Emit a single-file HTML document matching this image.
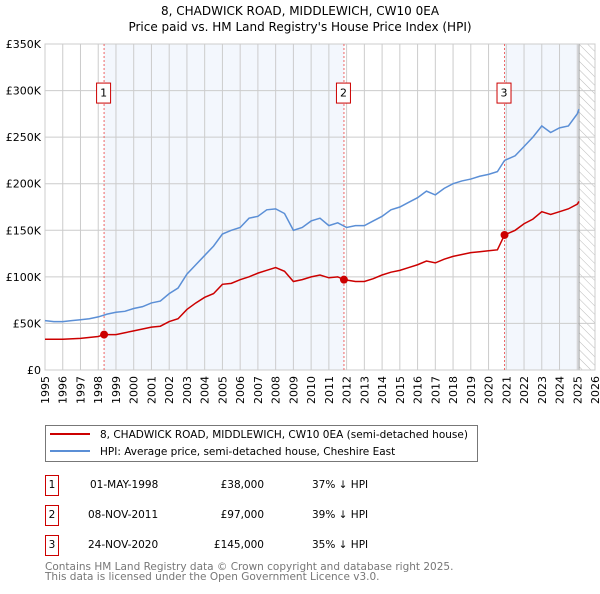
<!DOCTYPE html>
<html><head><meta charset="utf-8"><style>
body{margin:0;background:#fff;font-family:"DejaVu Sans","Liberation Sans",sans-serif;}
svg text{font-family:"DejaVu Sans","Liberation Sans",sans-serif;}
</style></head><body>
<svg id="c" width="600" height="590" xmlns="http://www.w3.org/2000/svg">
<defs><pattern id="hatch" width="6" height="6" patternUnits="userSpaceOnUse" patternTransform="rotate(-45)"><line x1="0" y1="0" x2="0" y2="6" stroke="#bbb" stroke-width="1"/></pattern></defs>
<text x="300" y="15" text-anchor="middle" font-size="12">8, CHADWICK ROAD, MIDDLEWICH, CW10 0EA</text>
<text x="300" y="31" text-anchor="middle" font-size="12">Price paid vs. HM Land Registry's House Price Index (HPI)</text>
<g id="plot"></g>
<g>
<rect x="45.5" y="425.5" width="432" height="36" fill="#fff" stroke="#777"/>
<line x1="50" y1="434" x2="90" y2="434" stroke="#cc0000" stroke-width="2"/>
<text x="100" y="438" font-size="10.5">8, CHADWICK ROAD, MIDDLEWICH, CW10 0EA (semi-detached house)</text>
<line x1="50" y1="451" x2="90" y2="451" stroke="#5b8fd6" stroke-width="2"/>
<text x="100" y="455" font-size="10.5">HPI: Average price, semi-detached house, Cheshire East</text>
</g>
<g font-size="10.5">
<rect x="45.5" y="475.5" width="13" height="20" fill="#fff" stroke="#cc0000"/><text x="52" y="488" text-anchor="middle">1</text>
<text x="90" y="488">01-MAY-1998</text><text x="264" y="488" text-anchor="end">£38,000</text><text x="312" y="488">37% ↓ HPI</text>
<rect x="45.5" y="505.5" width="13" height="20" fill="#fff" stroke="#cc0000"/><text x="52" y="518" text-anchor="middle">2</text>
<text x="88" y="518">08-NOV-2011</text><text x="264" y="518" text-anchor="end">£97,000</text><text x="312" y="518">39% ↓ HPI</text>
<rect x="45.5" y="535.5" width="13" height="20" fill="#fff" stroke="#cc0000"/><text x="52" y="548" text-anchor="middle">3</text>
<text x="88" y="548">24-NOV-2020</text><text x="264" y="548" text-anchor="end">£145,000</text><text x="312" y="548">35% ↓ HPI</text>
</g>
<text x="45" y="570" font-size="10.5" fill="#777">Contains HM Land Registry data © Crown copyright and database right 2025.</text>
<text x="45" y="580" font-size="10.5" fill="#777">This data is licensed under the Open Government Licence v3.0.</text>
</svg>
<script>
const yTicks=[0,50,100,150,200,250,300,350];
const yTickLabels=["£0","£50K","£100K","£150K","£200K","£250K","£300K","£350K"];
const xYears=[1995,1996,1997,1998,1999,2000,2001,2002,2003,2004,2005,2006,2007,2008,2009,2010,2011,2012,2013,2014,2015,2016,2017,2018,2019,2020,2021,2022,2023,2024,2025,2026];
const hpiT=[1995,1995.5,1996,1996.5,1997,1997.5,1998,1998.5,1999,1999.5,2000,2000.5,2001,2001.5,2002,2002.5,2003,2003.5,2004,2004.5,2005,2005.5,2006,2006.5,2007,2007.5,2008,2008.5,2009,2009.5,2010,2010.5,2011,2011.5,2012,2012.5,2013,2013.5,2014,2014.5,2015,2015.5,2016,2016.5,2017,2017.5,2018,2018.5,2019,2019.5,2020,2020.5,2020.9,2021.5,2022,2022.5,2023,2023.5,2024,2024.5,2025,2025.1];
const hpiV=[53,52,52,53,54,55,57,60,62,63,66,68,72,74,82,88,103,113,123,133,146,150,153,163,165,172,173,168,150,153,160,163,155,158,153,155,155,160,165,172,175,180,185,192,188,195,200,203,205,208,210,213,225,230,240,250,262,255,260,262,275,280];
const ppT=[1995,1996,1997,1998,1998.33,1999,1999.5,2000,2000.5,2001,2001.5,2002,2002.5,2003,2003.5,2004,2004.5,2005,2005.5,2006,2006.5,2007,2007.5,2008,2008.5,2009,2009.5,2010,2010.5,2011,2011.5,2011.85,2012.5,2013,2013.5,2014,2014.5,2015,2015.5,2016,2016.5,2017,2017.5,2018,2018.5,2019,2019.5,2020,2020.5,2020.9,2021.5,2022,2022.5,2023,2023.5,2024,2024.5,2025,2025.1];
const ppV=[33,33,34,36,38,38,40,42,44,46,47,52,55,65,72,78,82,92,93,97,100,104,107,110,106,95,97,100,102,99,100,97,95,95,98,102,105,107,110,113,117,115,119,122,124,126,127,128,129,145,150,157,162,170,167,170,173,178,181];
const saleT=[1998.33,2011.85,2020.9];
const saleV=[38,97,145];
const saleLabels=["1","2","3"];
const X0=45,X1=595,Y0=370,Y1=44;
const x=t=>X0+(t-1995)/(2026-1995)*(X1-X0);
const y=v=>Y0-v/350*(Y0-Y1);
const NS="http://www.w3.org/2000/svg";
const g=document.getElementById('plot');
function mk(tag,a,parent){const e=document.createElementNS(NS,tag);for(const k in a)e.setAttribute(k,a[k]);(parent||g).appendChild(e);return e;}
let e;
e=mk('rect',{x:x(saleT[0]),y:Y1,width:x(saleT[1])-x(saleT[0]),height:Y0-Y1,fill:'#eef3fc',opacity:0.7});


e=mk('rect',{x:x(saleT[2]),y:Y1,width:x(2025.1)-x(saleT[2]),height:Y0-Y1,fill:'#eef3fc',opacity:0.7});


e=mk('rect',{x:x(2025.1),y:Y1,width:X1-x(2025.1),height:Y0-Y1,fill:'url(#hatch)'});


yTicks.forEach((v,i)=>{
 e=mk('line',{x1:X0,x2:X1,y1:y(v),y2:y(v),stroke:'#ccc'});
 
 
 e=mk('text',{x:X0-4,y:y(v)+4,'text-anchor':'end','font-size':11});e.textContent=yTickLabels[i];
 
 
});
xYears.forEach(t=>{
 e=mk('line',{x1:x(t),x2:x(t),y1:Y1,y2:Y0,stroke:'#ccc'});
 
 
 const gg=mk('g',{});
 gg.setAttribute('transform','translate('+(x(t)+4)+','+(Y0+6)+') rotate(-90)');
 e=mk('text',{x:0,y:0,'text-anchor':'end','font-size':11},gg);e.textContent=t;
 
 
});
e=mk('line',{x1:x(2025.1),x2:x(2025.1),y1:Y1,y2:Y0,stroke:'#999'});


e=mk('rect',{x:X0,y:Y1,width:X1-X0,height:Y0-Y1,fill:'none',stroke:'#ccc'});


saleT.forEach((t,i)=>{
 e=mk('line',{x1:x(t),x2:x(t),y1:Y1,y2:Y0,stroke:'#e66','stroke-dasharray':'2,2'});
 
 
 e=mk('rect',{x:x(t)-7.5,y:y(300)-7.5,width:14,height:20,fill:'#fff',stroke:'#cc0000'});
 
 
 e=mk('text',{x:x(t)-0.5,y:y(300)+6,'text-anchor':'middle','font-size':11});e.textContent=saleLabels[i];
 
 
});
e=mk('polyline',{points:hpiT.map((t,i)=>x(t)+','+y(hpiV[i])).join(' '),fill:'none',stroke:'#5b8fd6','stroke-width':1.5});


e=mk('polyline',{points:ppT.map((t,i)=>x(t)+','+y(ppV[i])).join(' '),fill:'none',stroke:'#cc0000','stroke-width':1.5});


saleT.forEach((t,i)=>{
 e=mk('circle',{cx:x(t),cy:y(saleV[i]),r:4,fill:'#cc0000'});
 
 
});
</script>
</body></html>
